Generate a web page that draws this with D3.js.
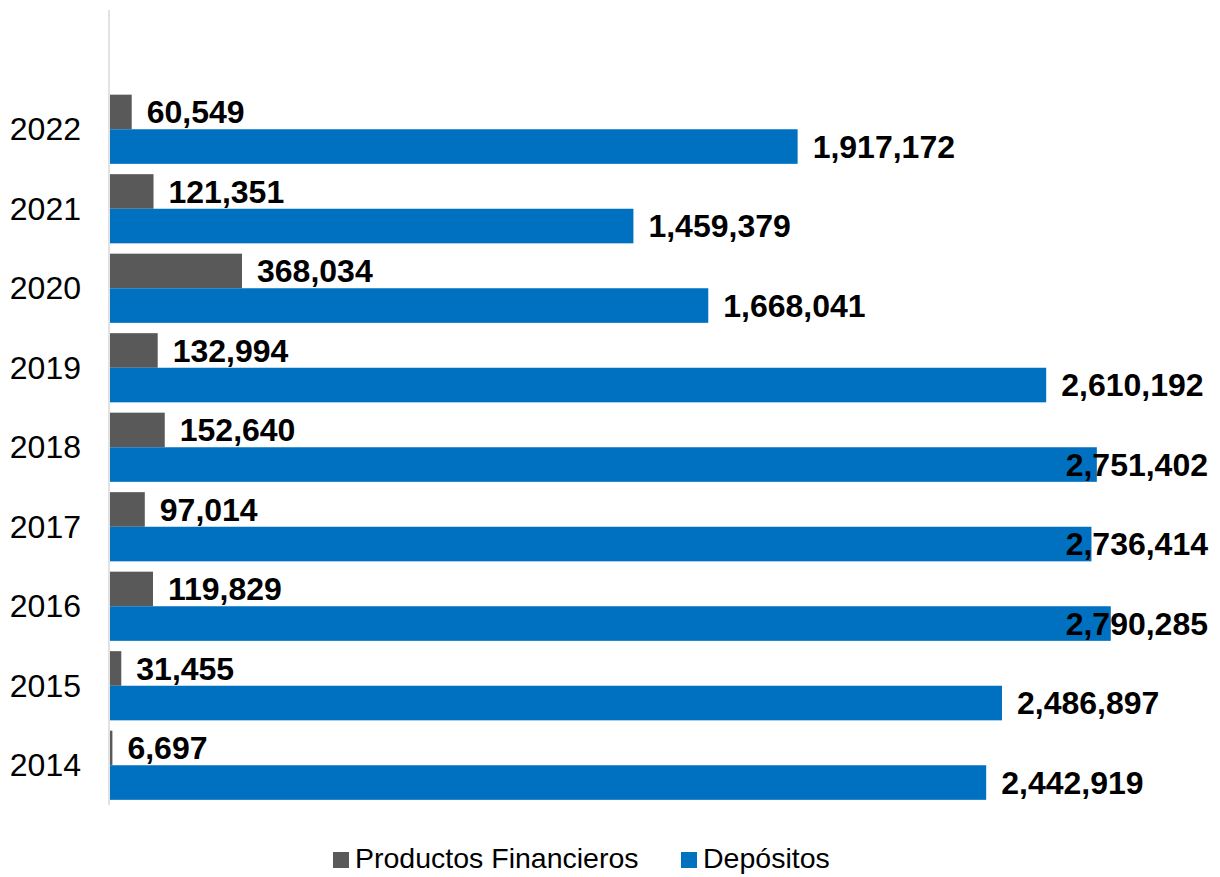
<!DOCTYPE html>
<html>
<head>
<meta charset="utf-8">
<script src="https://cdn.jsdelivr.net/npm/d3@7"></script>
<style>
  html, body { margin: 0; padding: 0; background: #ffffff; }
  svg { display: block; font-family: Arial, "Liberation Sans", sans-serif; }
</style>
</head>
<body>
<svg id="chart" width="1220" height="877"></svg>
<script>
// Years shown on the vertical axis (bottom to top: 2014 ... 2022)
const years = ["2014", "2015", "2016", "2017", "2018", "2019", "2020", "2021", "2022"];
// Series values per year
const productosFinancieros = [6697, 31455, 119829, 97014, 152640, 132994, 368034, 121351, 60549];
const depositos = [2442919, 2486897, 2790285, 2736414, 2751402, 2610192, 1668041, 1459379, 1917172];
const seriesNames = ["Productos Financieros", "Depósitos"];
const seriesColors = ["#595959", "#0070C0"];

const svg = d3.select("#chart");

const plotLeft = 110, plotTop = 10, plotBottom = 805, labelLimit = 1208;
const step = (plotBottom - plotTop) / (years.length + 1);

const x = d3.scaleLinear().domain([0, 3000000]).range([plotLeft, 1186]);
const y = d3.scaleBand()
  .domain(years)
  .range([plotBottom, plotBottom - years.length * step])
  .paddingInner(0.13)
  .paddingOuter(0.065);
const sub = d3.scaleBand().domain(seriesNames).range([0, y.bandwidth()]);

const fmt = d3.format(",");

const rows = years.map((yr, i) => ({ year: yr, vals: [productosFinancieros[i], depositos[i]] }));

// bars
const groups = svg.append("g").selectAll("g.year")
  .data(rows).join("g").attr("class", "year")
  .attr("transform", d => `translate(0,${y(d.year)})`);

groups.selectAll("rect")
  .data(d => d.vals.map((v, k) => ({ v, k })))
  .join("rect")
  .attr("x", x(0))
  .attr("y", d => sub(seriesNames[d.k]))
  .attr("width", d => x(d.v) - x(0))
  .attr("height", sub.bandwidth())
  .attr("fill", d => seriesColors[d.k]);

// value labels, kept inside the chart's right edge
const valSize = 32;
groups.selectAll("text.val")
  .data(d => d.vals.map((v, k) => ({ v, k })))
  .join("text")
  .attr("class", "val")
  .attr("font-size", valSize)
  .attr("font-weight", "bold")
  .attr("fill", "#000")
  .attr("y", d => sub(seriesNames[d.k]) + sub.bandwidth() / 2 + valSize * 0.35)
  .text(d => fmt(d.v))
  .each(function (d) {
    const w = this.getComputedTextLength();
    let px = x(d.v) + 15;
    if (px + w > labelLimit) px = labelLimit - w;
    d3.select(this).attr("x", px);
  });

// vertical category axis
svg.append("line")
  .attr("x1", 109).attr("x2", 109)
  .attr("y1", plotTop).attr("y2", plotBottom)
  .attr("stroke", "#d9d9d9").attr("stroke-width", 1.5);

const yAxis = d3.axisLeft(y).tickSize(0).tickPadding(0);
const ya = svg.append("g").attr("transform", "translate(81,0)").call(yAxis);
ya.select(".domain").remove();
ya.selectAll("text")
  .attr("font-size", 32)
  .attr("font-family", "Arial, 'Liberation Sans', sans-serif")
  .attr("fill", "#000")
  .attr("dy", "0.35em");

// legend
const legendItems = [
  { name: seriesNames[0], color: seriesColors[0], sx: 333, tx: 355 },
  { name: seriesNames[1], color: seriesColors[1], sx: 681, tx: 703 }
];
const lg = svg.append("g");
legendItems.forEach(it => {
  lg.append("rect").attr("x", it.sx).attr("y", 852).attr("width", 16).attr("height", 16).attr("fill", it.color);
  lg.append("text").attr("x", it.tx).attr("y", 868)
    .attr("font-size", 28.5).attr("fill", "#000").text(it.name);
});
</script>
</body>
</html>
